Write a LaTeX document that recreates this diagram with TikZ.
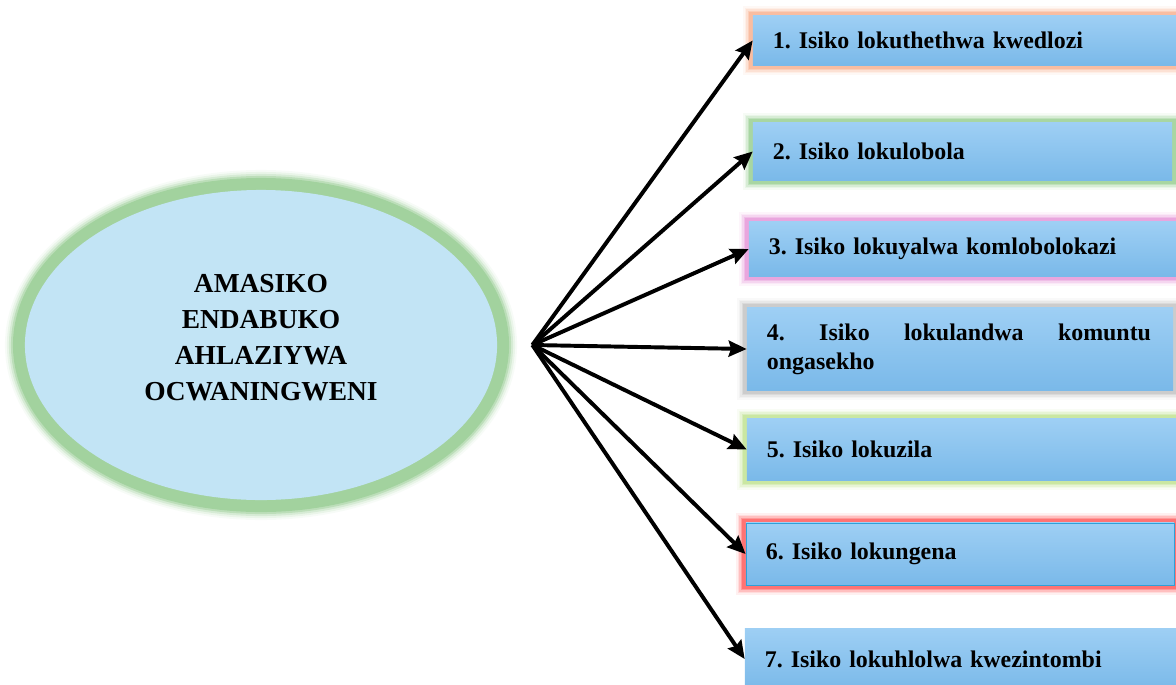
\documentclass[tikz,border=0pt]{standalone}
\usepackage{fontspec}
\setmainfont{Liberation Serif}
\usetikzlibrary{arrows.meta, shapes.geometric, positioning}
\frenchspacing

\definecolor{ellfill}{HTML}{C2E4F5}
\definecolor{ellglow}{HTML}{9CCF98}
\definecolor{boxtop}{HTML}{9ECFF4}
\definecolor{boxbot}{HTML}{7AB9E9}
\definecolor{glowor}{HTML}{F9B99B}
\definecolor{glowgr}{HTML}{A2D39C}
\definecolor{glowpk}{HTML}{E8A0DC}
\definecolor{glowgy}{HTML}{C9C9C9}
\definecolor{glowlg}{HTML}{C6E59C}
\definecolor{glowrd}{HTML}{FF6A6A}
\definecolor{edgebl}{HTML}{2FA0D8}

\begin{document}
\begin{tikzpicture}[x=0.025cm, y=-0.025cm,
    glow/.style={preaction={draw=#1, line width=0.5cm, opacity=0.1},
                 preaction={draw=#1, line width=0.42cm, opacity=0.15},
                 preaction={draw=#1, line width=0.34cm, opacity=0.25},
                 preaction={draw=#1, line width=0.26cm, opacity=0.45},
                 preaction={draw=#1, line width=0.18cm, opacity=0.8}},
    isiko/.style={rectangle, top color=boxtop, bottom color=boxbot,
                  inner xsep=0.5cm, inner ysep=0pt, align=left,
                  font=\bfseries\fontsize{17}{20.6}\selectfont},
    arr/.style={-{Stealth[length=0.45cm, width=0.4cm, inset=0.06cm]}, line width=2.8pt}]
    \useasboundingbox (0,0) rectangle (1176,684);

    \node[ellipse, fill=ellfill, minimum width=11.8cm, minimum height=7.75cm,
          preaction={draw=ellglow, line width=1cm, opacity=0.08},
          preaction={draw=ellglow, line width=0.9cm, opacity=0.15},
          preaction={draw=ellglow, line width=0.8cm, opacity=0.25},
          preaction={draw=ellglow, line width=0.7cm, opacity=0.45},
          preaction={draw=ellglow, line width=0.6cm, opacity=0.8}] (ell) at (261,345) {};
    \node[align=center, font=\bfseries\fontsize{19.5}{25.6}\selectfont] (title) at (261,338)
        {AMASIKO\\ENDABUKO\\AHLAZIYWA\\OCWANINGWENI};
    \coordinate (hub) at ([xshift=0.875cm]ell.east);

    \node[isiko, glow=glowor, minimum width=10.575cm, minimum height=1.225cm, text width=9.575cm] (b1) at (964.5,40.5) {1. Isiko lokuthethwa kwedlozi};
    \node[isiko, glow=glowgr, minimum width=10.475cm, minimum height=1.425cm, text width=9.475cm] (b2) at (962.5,151.5) {2. Isiko lokulobola};
    \node[isiko, glow=glowpk, minimum width=10.675cm, minimum height=1.35cm, text width=9.675cm] (b3) at (962.5,249) {3. Isiko lokuyalwa komlobolokazi};
    \node[isiko, glow=glowgy, minimum width=10.65cm, minimum height=2.05cm, text width=9.65cm] (b4) at (960,349)
        {\hbox to 9.6cm{4.\hfill Isiko\hfill lokulandwa\hfill komuntu}\\ongasekho};
    \node[isiko, glow=glowlg, minimum width=10.825cm, minimum height=1.525cm, text width=9.825cm] (b5) at (963.5,449.5) {5. Isiko lokuzila};
    \node[isiko, glow=glowrd, draw=edgebl, line width=0.6pt, minimum width=10.7cm, minimum height=1.55cm, text width=9.7cm] (b6) at (960,554) {6. Isiko lokungena};
    \node[isiko, minimum width=10.875cm, minimum height=1.55cm, text width=9.875cm] (b7) at (962.5,659) {7. Isiko lokuhlolwa kwezintombi};

    \foreach \b in {b1,b2,b3,b4,b5,b6,b7}
        \draw[arr] (hub) -- (\b.west);
\end{tikzpicture}
\end{document}
